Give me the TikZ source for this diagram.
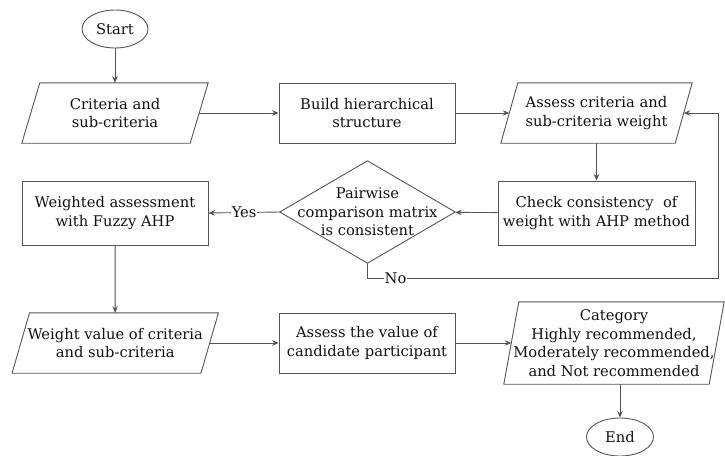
\documentclass[tikz,border=0pt]{standalone}
\usepackage{fontspec}
\setmainfont{DejaVu Serif}
\usetikzlibrary{shapes.geometric,arrows.meta}
\definecolor{linec}{HTML}{555555}
\definecolor{txt}{HTML}{111111}
\begin{document}
\begin{tikzpicture}[x=1pt,y=-1pt,
  font=\fontsize{14.7}{18.5}\selectfont,
  shapeline/.style={draw=linec, line width=0.9pt},
  base/.style={shapeline, text=txt, align=center, inner sep=1pt},
  term/.style={base, ellipse, minimum width=66pt, minimum height=38pt},
  procbox/.style={base, rectangle},
  iobox/.style={rectangle, text=txt, align=center, inner sep=0pt},
  arr/.style={draw=linec, line width=0.9pt, -{Stealth[length=6.5pt,width=5.5pt]}},
  lbl/.style={fill=white, text=txt, inner sep=1pt}]
\useasboundingbox (0,0) rectangle (725,455);
% nodes
\node[term] (start) at (115,29) {Start};
\node[iobox, minimum width=168pt, minimum height=60pt] (crit) at (115,113) {Criteria and\\sub-criteria};
\draw[shapeline] ([xshift=9pt]crit.north west) -- ([xshift=9pt]crit.north east) -- ([xshift=-9pt]crit.south east) -- ([xshift=-9pt]crit.south west) -- cycle;
\node[procbox, minimum width=176pt, minimum height=60pt] (build) at (367,113) {Build hierarchical\\structure};
\node[iobox, minimum width=174pt, minimum height=60pt] (assess) at (596.5,113) {Assess criteria and\\sub-criteria weight};
\draw[shapeline] ([xshift=8.5pt]assess.north west) -- ([xshift=8.5pt]assess.north east) -- ([xshift=-8.5pt]assess.south east) -- ([xshift=-8.5pt]assess.south west) -- cycle;
\node[procbox, minimum width=197pt, minimum height=64pt] (check) at (596.5,213) {Check consistency\ \ of\\weight with AHP method};
\node[iobox, minimum width=175pt, minimum height=102pt] (dia) at (367.5,212) {Pairwise\\comparison matrix\\is consistent};
\draw[shapeline] (dia.north) -- (dia.east) -- (dia.south) -- (dia.west) -- cycle;
\node[procbox, minimum width=186pt, minimum height=64pt] (weighted) at (115,213) {Weighted assessment\\with Fuzzy AHP};
\node[iobox, minimum width=188.5pt, minimum height=60pt] (wval) at (115.25,343) {Weight value of criteria\\and sub-criteria};
\draw[shapeline] ([xshift=8.75pt]wval.north west) -- ([xshift=8.75pt]wval.north east) -- ([xshift=-8.75pt]wval.south east) -- ([xshift=-8.75pt]wval.south west) -- cycle;
\node[procbox, minimum width=176pt, minimum height=60pt] (aval) at (367,343) {Assess the value of\\candidate participant};
\node[iobox, minimum width=205pt, minimum height=82pt] (cat) at (614,343) {Category\\Highly recommended,\\Moderately recommended,\\and Not recommended};
\draw[shapeline] ([xshift=7.5pt]cat.north west) -- ([xshift=7.5pt]cat.north east) -- ([xshift=-7.5pt]cat.south east) -- ([xshift=-7.5pt]cat.south west) -- cycle;
\node[term, minimum width=67pt] (end) at (620,437) {End};
\coordinate (nodown) at (367.5,278);
\coordinate (noright) at (718,278);
\coordinate (noup) at (718,113);
% connectors
\draw[arr] (start) -- (crit);
\draw[arr] (crit) -- (build);
\draw[arr] (build) -- (assess);
\draw[arr] (assess.south -| check.north) -- (check.north);
\draw[arr] (check) -- (dia);
\draw[arr] (dia.west) -- node[lbl] {Yes} (weighted.east);
\draw[arr] (dia.south) -- (nodown) -- node[lbl, pos=0.08] {No} (noright) -- (noup) -- (assess.east);
\draw[arr] (weighted) -- (wval);
\draw[arr] (wval) -- (aval);
\draw[arr] (aval) -- (cat);
\draw[arr] (cat.south -| end.north) -- (end.north);
\end{tikzpicture}
\end{document}
